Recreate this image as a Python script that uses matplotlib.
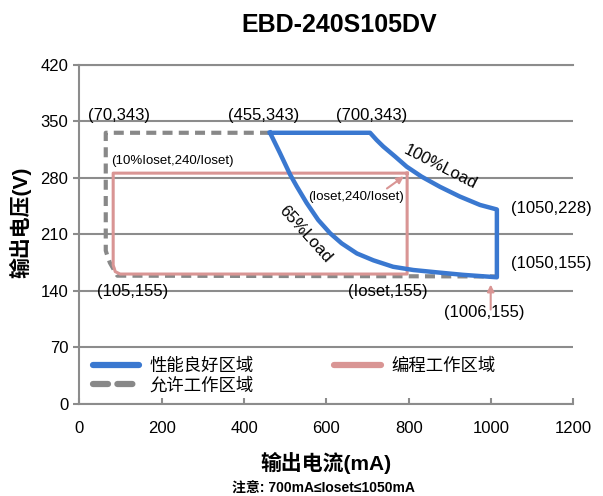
import matplotlib
matplotlib.use('Agg')
import matplotlib.pyplot as plt

plt.rcParams['font.family'] = ['Liberation Sans', 'Noto Sans CJK SC', 'DejaVu Sans']

# 性能良好区域 (blue): top edge, 100% load curve,
# right edge, then 65% load curve back to the start
perf_x = [463, 706, 722, 738, 767, 795, 831, 876, 924, 973, 1014,
          1014, 932, 870, 811, 762, 714, 674, 637, 609, 580, 552, 528, 512, 487, 463]
perf_y = [336, 336, 327, 319, 306.5, 294, 281.7, 269, 257, 246.6, 241,
          157, 160, 163, 166, 170, 178, 186.5, 199, 211.5, 228, 249, 269.5, 284, 311, 336]

# 允许工作区域 (gray dashed)
allow_x = [463, 64, 64, 67, 74, 92, 1014]
allow_y = [336, 336, 190, 185, 175, 159, 158]

# 编程工作区域 (pink)
prog_x = [796, 82, 82, 87, 99, 796, 796]
prog_y = [286, 286, 172, 164, 161, 161, 286]

x_ticks = [0, 200, 400, 600, 800, 1000, 1200]
y_ticks = [0, 70, 140, 210, 280, 350, 420]

# point labels: text, x, y
point_labels = [
    ('(70,343)', 97, 358),
    ('(455,343)', 447, 358),
    ('(700,343)', 710, 358),
    ('(105,155)', 129, 139),
    ('(Ioset,155)', 750, 139),
    ('(1006,155)', 983, 113),
    ('(1050,228)', 1147, 242),
    ('(1050,155)', 1147, 174),
]

blue = '#3a78d0'
pink = '#d99594'
gray = '#888888'
grid_c = '#8c8c8c'

fig = plt.figure(figsize=(6.03, 4.96), dpi=100)
ax = fig.add_axes([0.1317, 0.1855, 0.951 - 0.1317, 0.869 - 0.1855])

ax.plot(allow_x, allow_y, color=gray, lw=3, linestyle=(0, (2.4, 1.5)), label='允许工作区域', zorder=3)
ax.plot(prog_x, prog_y, color=pink, lw=2.2, label='编程工作区域', zorder=4)
ax.plot(perf_x, perf_y, color=blue, lw=3.2, label='性能良好区域', zorder=5,
        solid_joinstyle='round')

# arrows
arrow_style = dict(arrowstyle='-|>', color=pink, lw=1.5, mutation_scale=10, shrinkA=0, shrinkB=0)
ax.annotate('', xy=(788, 282), xytext=(747, 267), arrowprops=arrow_style)
ax.annotate('', xy=(999, 148), xytext=(999, 117), arrowprops=arrow_style)

for txt, x, y in point_labels:
    ax.text(x, y, txt, ha='center', va='center', fontsize=12)

ax.text(78, 301.5, '(10%Ioset,240/Ioset)', ha='left', va='center', fontsize=9.5)
ax.text(673, 257, '(Ioset,240/Ioset)', ha='center', va='center', fontsize=9.5)
ax.text(876, 294, '100%Load', ha='center', va='center', fontsize=12, rotation=-27,
        rotation_mode='anchor')
ax.text(549, 210, '65%Load', ha='center', va='center', fontsize=12, rotation=-48,
        rotation_mode='anchor')

ax.set_xlim(0, 1200)
ax.set_ylim(0, 420)
ax.set_xticks(x_ticks)
ax.set_yticks(y_ticks)
ax.tick_params(axis='x', direction='in', length=4, width=1.5, color=grid_c, labelsize=12, pad=12)
ax.tick_params(axis='y', direction='out', length=4, width=1.5, color=grid_c, labelsize=12, pad=4)
ax.yaxis.grid(True, color=grid_c, lw=1.5)
ax.set_axisbelow(True)
for side in ['left', 'bottom', 'top']:
    ax.spines[side].set_color(grid_c)
    ax.spines[side].set_linewidth(1.5)
ax.spines['right'].set_visible(False)

ax.set_xlabel('输出电流(mA)', fontsize=15, fontweight='bold')
ax.xaxis.set_label_coords(0.5, -0.142)
ax.set_ylabel('输出电压(V)', fontsize=15, fontweight='bold')
ax.yaxis.set_label_coords(-0.098, 0.535)
fig.text(0.562, 0.95, 'EBD-240S105DV', ha='center', va='center', fontsize=18, fontweight='bold')

handles, labels = ax.get_legend_handles_labels()
order = [2, 0, 1]
leg = ax.legend([handles[i] for i in order], [labels[i] for i in order],
                ncol=2, loc='lower left', bbox_to_anchor=(-0.005, -0.015), frameon=False,
                fontsize=12.5, handlelength=2.7, handletextpad=0.6, columnspacing=4.6,
                labelspacing=0.15)
for h in leg.legend_handles:
    h.set_linewidth(4.5)
    h.set_solid_capstyle('round')
    h.set_dash_capstyle('round')

fig.text(0.536, 0.014, '注意: 700mA≤Ioset≤1050mA', ha='center', va='center',
         fontsize=10, fontweight='bold')

fig.savefig('out.png', dpi=100)
